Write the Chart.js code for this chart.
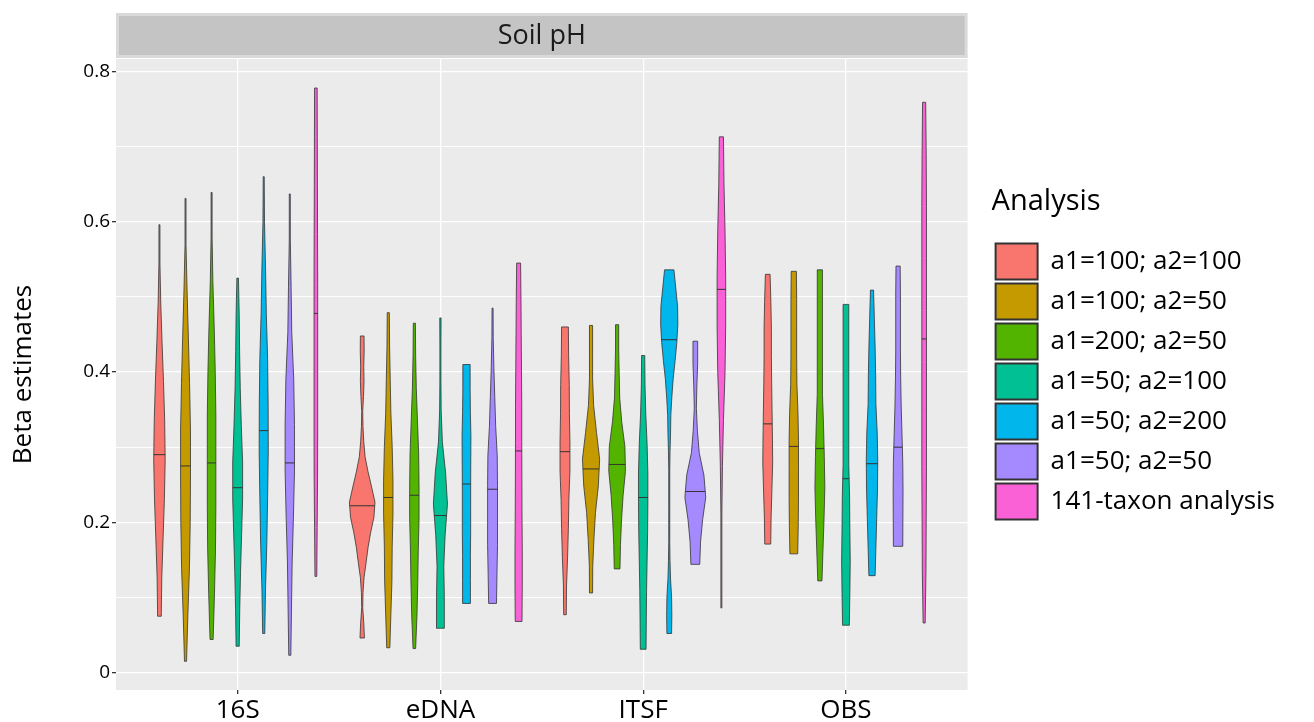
<!DOCTYPE html>
<html>
<head>
<meta charset="utf-8">
<script src="https://cdn.jsdelivr.net/npm/chart.js@4.4.1/dist/chart.umd.min.js"></script>
<style>
html, body { margin: 0; padding: 0; background: #fff; }
</style>
</head>
<body>
<canvas id="violinCanvas" width="1314" height="722"></canvas>
<script>
var panelTitle = "Soil pH";
var markers = ["16S", "eDNA", "ITSF", "OBS"];
var analyses = ["a1=100; a2=100", "a1=100; a2=50", "a1=200; a2=50", "a1=50; a2=100", "a1=50; a2=200", "a1=50; a2=50", "141-taxon analysis"];
var colors = ["#F8766D", "#C49A00", "#53B400", "#00C094", "#00B6EB", "#A58AFF", "#FB61D7"];

var yMajor = [0, 0.2, 0.4, 0.6, 0.8];
var yMinor = [0.1, 0.3, 0.5, 0.7];

// one row per analysis, one value per marker (16S, eDNA, ITSF, OBS)
var lowest = [
  [0.075, 0.046, 0.077, 0.171],
  [0.015, 0.033, 0.106, 0.158],
  [0.044, 0.032, 0.138, 0.122],
  [0.035, 0.059, 0.031, 0.063],
  [0.052, 0.092, 0.052, 0.129],
  [0.023, 0.092, 0.144, 0.168],
  [0.128, 0.068, 0.086, 0.066]
];
var highest = [
  [0.596, 0.448, 0.460, 0.530],
  [0.631, 0.479, 0.462, 0.534],
  [0.639, 0.465, 0.463, 0.536],
  [0.525, 0.472, 0.422, 0.490],
  [0.660, 0.410, 0.536, 0.509],
  [0.637, 0.485, 0.441, 0.541],
  [0.778, 0.545, 0.713, 0.759]
];
var medians = [
  [0.290, 0.222, 0.294, 0.331],
  [0.275, 0.233, 0.271, 0.301],
  [0.279, 0.236, 0.277, 0.298],
  [0.246, 0.209, 0.233, 0.258],
  [0.322, 0.251, 0.443, 0.278],
  [0.279, 0.244, 0.241, 0.300],
  [0.478, 0.295, 0.510, 0.444]
];

// density, bottom to top, evenly spaced from lowest to highest (1 = widest)
var density = [
  [
    [0.14, 0.18, 0.28, 0.38, 0.44, 0.40, 0.31, 0.2, 0.1, 0.02, 0.02],
    [0.17, 0.12, 0.04, 0.06, 0.14, 0.3, 0.45, 0.65, 0.9, 0.98, 0.72, 0.45, 0.22, 0.12, 0.06, 0.03, 0.1, 0.14, 0.12, 0.15, 0.14],
    [0.1, 0.12, 0.2, 0.26, 0.3, 0.38, 0.38, 0.34, 0.33, 0.28, 0.26],
    [0.23, 0.26, 0.32, 0.38, 0.36, 0.33, 0.3, 0.28, 0.28, 0.24, 0.18]
  ],
  [
    [0.08, 0.18, 0.3, 0.36, 0.38, 0.38, 0.31, 0.22, 0.12, 0.02, 0.02],
    [0.12, 0.2, 0.28, 0.3, 0.36, 0.36, 0.3, 0.2, 0.15, 0.1, 0.08],
    [0.12, 0.13, 0.22, 0.34, 0.56, 0.66, 0.42, 0.2, 0.12, 0.12, 0.12],
    [0.3, 0.34, 0.36, 0.36, 0.36, 0.32, 0.24, 0.22, 0.22, 0.22, 0.2]
  ],
  [
    [0.12, 0.22, 0.3, 0.33, 0.33, 0.33, 0.28, 0.2, 0.1, 0.02, 0.02],
    [0.1, 0.2, 0.26, 0.3, 0.36, 0.36, 0.33, 0.24, 0.15, 0.1, 0.08],
    [0.22, 0.26, 0.34, 0.46, 0.64, 0.6, 0.36, 0.2, 0.16, 0.12, 0.12],
    [0.16, 0.24, 0.32, 0.38, 0.34, 0.28, 0.2, 0.2, 0.2, 0.2, 0.2]
  ],
  [
    [0.12, 0.16, 0.22, 0.3, 0.38, 0.38, 0.28, 0.2, 0.15, 0.12, 0.06],
    [0.3, 0.3, 0.26, 0.36, 0.54, 0.4, 0.15, 0.06, 0.04, 0.04, 0.05],
    [0.22, 0.24, 0.26, 0.3, 0.34, 0.36, 0.36, 0.3, 0.2, 0.14, 0.12],
    [0.26, 0.3, 0.33, 0.3, 0.28, 0.22, 0.22, 0.22, 0.22, 0.22, 0.22]
  ],
  [
    [0.08, 0.14, 0.24, 0.3, 0.35, 0.34, 0.3, 0.2, 0.14, 0.06, 0.02],
    [0.3, 0.3, 0.3, 0.32, 0.32, 0.32, 0.33, 0.34, 0.3, 0.28, 0.28],
    [0.18, 0.2, 0.18, 0.1, 0.06, 0.02, 0.02, 0.02, 0.02, 0.02, 0.06, 0.1, 0.12, 0.2, 0.3, 0.45, 0.58, 0.66, 0.64, 0.5, 0.36],
    [0.24, 0.3, 0.36, 0.42, 0.44, 0.4, 0.3, 0.28, 0.24, 0.18, 0.12]
  ],
  [
    [0.08, 0.13, 0.18, 0.28, 0.36, 0.36, 0.3, 0.15, 0.1, 0.04, 0.02],
    [0.3, 0.34, 0.38, 0.38, 0.38, 0.36, 0.24, 0.17, 0.1, 0.05, 0.04],
    [0.34, 0.4, 0.56, 0.8, 0.66, 0.3, 0.16, 0.08, 0.12, 0.18, 0.18],
    [0.36, 0.37, 0.38, 0.36, 0.3, 0.24, 0.2, 0.18, 0.18, 0.18, 0.16]
  ],
  [
    [0.07, 0.1, 0.13, 0.14, 0.14, 0.14, 0.14, 0.13, 0.12, 0.11, 0.1],
    [0.26, 0.28, 0.28, 0.26, 0.25, 0.24, 0.24, 0.22, 0.2, 0.18, 0.15],
    [0.02, 0.02, 0.02, 0.08, 0.16, 0.28, 0.33, 0.33, 0.28, 0.2, 0.16],
    [0.08, 0.14, 0.16, 0.18, 0.18, 0.18, 0.18, 0.18, 0.18, 0.16, 0.12]
  ]
];

var dodge = 0.9 / analyses.length;

Chart.defaults.font.family = "'Open Sans', sans-serif";
Chart.defaults.color = "#000";

function widthAt(prof, lo, hi, v) {
  var t = (v - lo) / (hi - lo) * (prof.length - 1);
  var i = Math.min(Math.floor(t), prof.length - 2);
  var f = t - i;
  return prof[i] * (1 - f) + prof[i + 1] * f;
}

var violinPlugin = {
  id: "violins",
  beforeDraw: function(chart) {
    var ctx = chart.ctx, a = chart.chartArea;
    ctx.save();
    ctx.fillStyle = "#ebebeb";
    ctx.fillRect(a.left, a.top, a.right - a.left, a.bottom - a.top);
    // facet strip
    ctx.fillStyle = "#d9d9d9";
    ctx.fillRect(a.left, 13, a.right - a.left, 45);
    ctx.fillStyle = "#c4c4c4";
    ctx.fillRect(a.left + 3, 16, a.right - a.left - 6, 39);
    ctx.fillStyle = "#1a1a1a";
    ctx.font = "27px 'Open Sans'";
    ctx.textAlign = "center";
    ctx.textBaseline = "middle";
    ctx.fillText(panelTitle, (a.left + a.right) / 2, 36);
    ctx.restore();
  },
  afterLayout: function(chart) {
    var lg = chart.legend;
    lg.left += 24; lg.right += 24;
    lg.top -= 35; lg.bottom -= 35;
  },
  afterDatasetsDraw: function(chart) {
    var ctx = chart.ctx;
    var xs = chart.scales.x, ys = chart.scales.y;
    var slot = xs.getPixelForValue(dodge) - xs.getPixelForValue(0);
    ctx.save();
    chart.data.datasets.forEach(function(ds, a) {
      var meta = chart.getDatasetMeta(a);
      meta.data.forEach(function(pt, m) {
        var cx = pt.x;
        var prof = density[a][m], lo = lowest[a][m], hi = highest[a][m];
        var n = prof.length;
        ctx.beginPath();
        for (var i = 0; i < n; i++) {
          var v = lo + (hi - lo) * i / (n - 1);
          var hw = Math.max(prof[i] * slot / 2, 0.5);
          if (i === 0) ctx.moveTo(cx - hw, ys.getPixelForValue(v));
          else ctx.lineTo(cx - hw, ys.getPixelForValue(v));
        }
        for (var j = n - 1; j >= 0; j--) {
          var v2 = lo + (hi - lo) * j / (n - 1);
          var hw2 = Math.max(prof[j] * slot / 2, 0.5);
          ctx.lineTo(cx + hw2, ys.getPixelForValue(v2));
        }
        ctx.closePath();
        ctx.fillStyle = ds.backgroundColor;
        ctx.fill();
        ctx.strokeStyle = "#333";
        ctx.lineWidth = 0.8;
        ctx.stroke();
        // median line
        var med = medians[a][m];
        var mw = Math.max(widthAt(prof, lo, hi, med) * slot / 2, 0.5);
        var my = ys.getPixelForValue(med);
        ctx.beginPath();
        ctx.moveTo(cx - mw, my);
        ctx.lineTo(cx + mw, my);
        ctx.lineWidth = 1;
        ctx.stroke();
      });
    });
    ctx.restore();
  }
};

var datasets = analyses.map(function(name, a) {
  return {
    label: name,
    backgroundColor: colors[a],
    borderColor: "#333",
    pointRadius: 0,
    data: markers.map(function(mk, m) {
      return { x: m + (a - (analyses.length - 1) / 2) * dodge, y: medians[a][m] };
    })
  };
});

var context = document.getElementById("violinCanvas");
var violinChart = new Chart(context, {
  type: "scatter",
  data: { datasets: datasets },
  plugins: [violinPlugin],
  options: {
    responsive: false,
    animation: false,
    devicePixelRatio: 1,
    layout: { padding: { top: 59, right: 53, bottom: 0, left: 0 } },
    scales: {
      x: {
        type: "linear",
        min: -0.6,
        max: 3.6,
        afterBuildTicks: function(scale) {
          scale.ticks = markers.map(function(mk, i) { return { value: i }; });
        },
        afterFit: function(scale) { scale.height = 32; },
        border: { display: false },
        grid: { color: "#ffffff", lineWidth: 1.3, tickColor: "#333", tickLength: 4 },
        ticks: {
          padding: 1,
          font: { size: 26 },
          color: "#000",
          maxRotation: 0,
          callback: function(value) { return markers[value]; }
        }
      },
      y: {
        type: "linear",
        min: -0.0232,
        max: 0.8166,
        afterBuildTicks: function(scale) {
          scale.ticks = yMajor.concat(yMinor).sort().map(function(v) { return { value: v }; });
        },
        afterFit: function(scale) { scale.width = 116; },
        border: { display: false },
        grid: {
          color: "#ffffff",
          lineWidth: function(c) { return yMajor.indexOf(c.tick.value) >= 0 ? 1.3 : 0.9; },
          tickColor: function(c) { return yMajor.indexOf(c.tick.value) >= 0 ? "#333" : "rgba(0,0,0,0)"; },
          tickLength: 4
        },
        ticks: {
          padding: 2,
          font: { size: 19 },
          color: "#000",
          callback: function(value) { return yMajor.indexOf(value) >= 0 ? String(value) : ""; }
        },
        title: {
          display: true,
          text: "Beta estimates",
          font: { size: 26 },
          color: "#000",
          padding: { top: 8, bottom: 0 }
        }
      }
    },
    plugins: {
      tooltip: { enabled: false },
      legend: {
        position: "right",
        align: "center",
        title: {
          display: true,
          position: "start",
          text: "Analysis",
          color: "#000",
          font: { size: 29 },
          padding: { top: 0, bottom: 17 }
        },
        labels: {
          boxWidth: 42,
          boxHeight: 36,
          padding: 4,
          color: "#000",
          font: { size: 26 },
          generateLabels: function() {
            return analyses.map(function(name, i) {
              return { text: name, fillStyle: colors[i], strokeStyle: "#333", lineWidth: 2, hidden: false, datasetIndex: i };
            });
          }
        }
      }
    }
  }
});
</script>
</body>
</html>
